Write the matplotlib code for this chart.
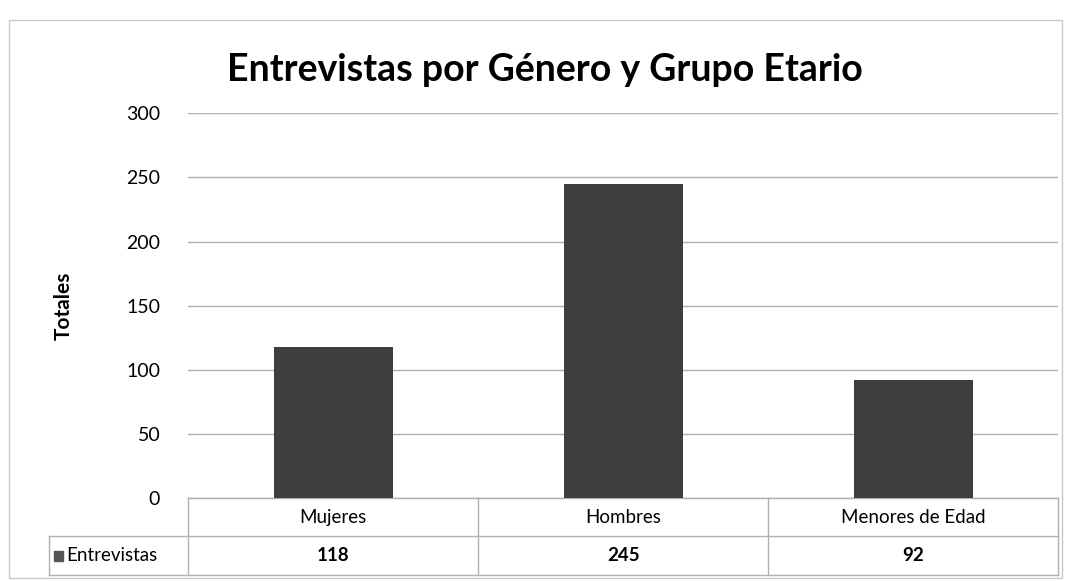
import matplotlib.pyplot as plt
import matplotlib.transforms as mtransforms
from matplotlib.patches import Rectangle

categorias = ["Mujeres", "Hombres", "Menores de Edad"]
entrevistas = [118, 245, 92]
serie = "Entrevistas"
y_ticks = [0, 50, 100, 150, 200, 250, 300]

plt.rcParams["font.family"] = ["Lato", "DejaVu Sans"]

fig = plt.figure(figsize=(10.68, 5.81), dpi=100)
ax = fig.add_axes([0.176, 0.143, 0.815, 0.662])

bar_color = "#3e3e3e"
x = range(len(categorias))
ax.bar(x, entrevistas, width=0.41, color=bar_color, zorder=3)

ax.set_xlim(-0.5, len(categorias) - 0.5)
ax.set_ylim(0, 300)
ax.set_yticks(y_ticks)
ax.set_yticklabels([str(t) for t in y_ticks], fontsize=14)
ax.tick_params(axis="y", length=0, pad=20)
ax.set_xticks([])
ax.yaxis.grid(True, color="#b0b0b0", linewidth=1.0, zorder=0)
for s in ax.spines.values():
    s.set_visible(False)

ax.set_ylabel("Totales", fontsize=15, fontweight="bold", labelpad=38)

fig.text(0.51, 0.88, "Entrevistas por Género y Grupo Etario",
         ha="center", va="center", fontsize=27, fontweight="bold")

# data table below the bars: x in data units, y in axes fraction
trans = mtransforms.blended_transform_factory(ax.transData, ax.transAxes)
row_h = 0.1
line_kw = dict(color="#b0b0b0", linewidth=1.0, transform=trans, clip_on=False)
n = len(categorias)
left, right = -0.5, n - 0.5
ax.plot([left, right], [0, 0], **line_kw)
ax.plot([-0.98, right], [-row_h, -row_h], **line_kw)
ax.plot([-0.98, right], [-2 * row_h, -2 * row_h], **line_kw)
for b in range(n + 1):
    ax.plot([b - 0.5, b - 0.5], [0, -2 * row_h], **line_kw)
ax.plot([-0.98, -0.98], [-row_h, -2 * row_h], **line_kw)

for i, (cat, val) in enumerate(zip(categorias, entrevistas)):
    ax.text(i, -row_h / 2, cat, transform=trans, ha="center", va="center",
            fontsize=13.5, clip_on=False)
    ax.text(i, -1.5 * row_h, str(val), transform=trans, ha="center",
            va="center", fontsize=13.5, fontweight="bold", clip_on=False)

ax.add_patch(Rectangle((-0.962, -1.5 * row_h - 0.013), 0.033, 0.026,
                       transform=trans, color="#555555", clip_on=False))
ax.text(-0.92, -1.5 * row_h, serie, transform=trans, ha="left", va="center",
        fontsize=13.5, clip_on=False)

# chart border
fig.patches.append(Rectangle((0.008, 0.006), 0.986, 0.96, transform=fig.transFigure,
                             fill=False, edgecolor="#c8c8c8", linewidth=1.0))

fig.savefig("out.png", dpi=100)
